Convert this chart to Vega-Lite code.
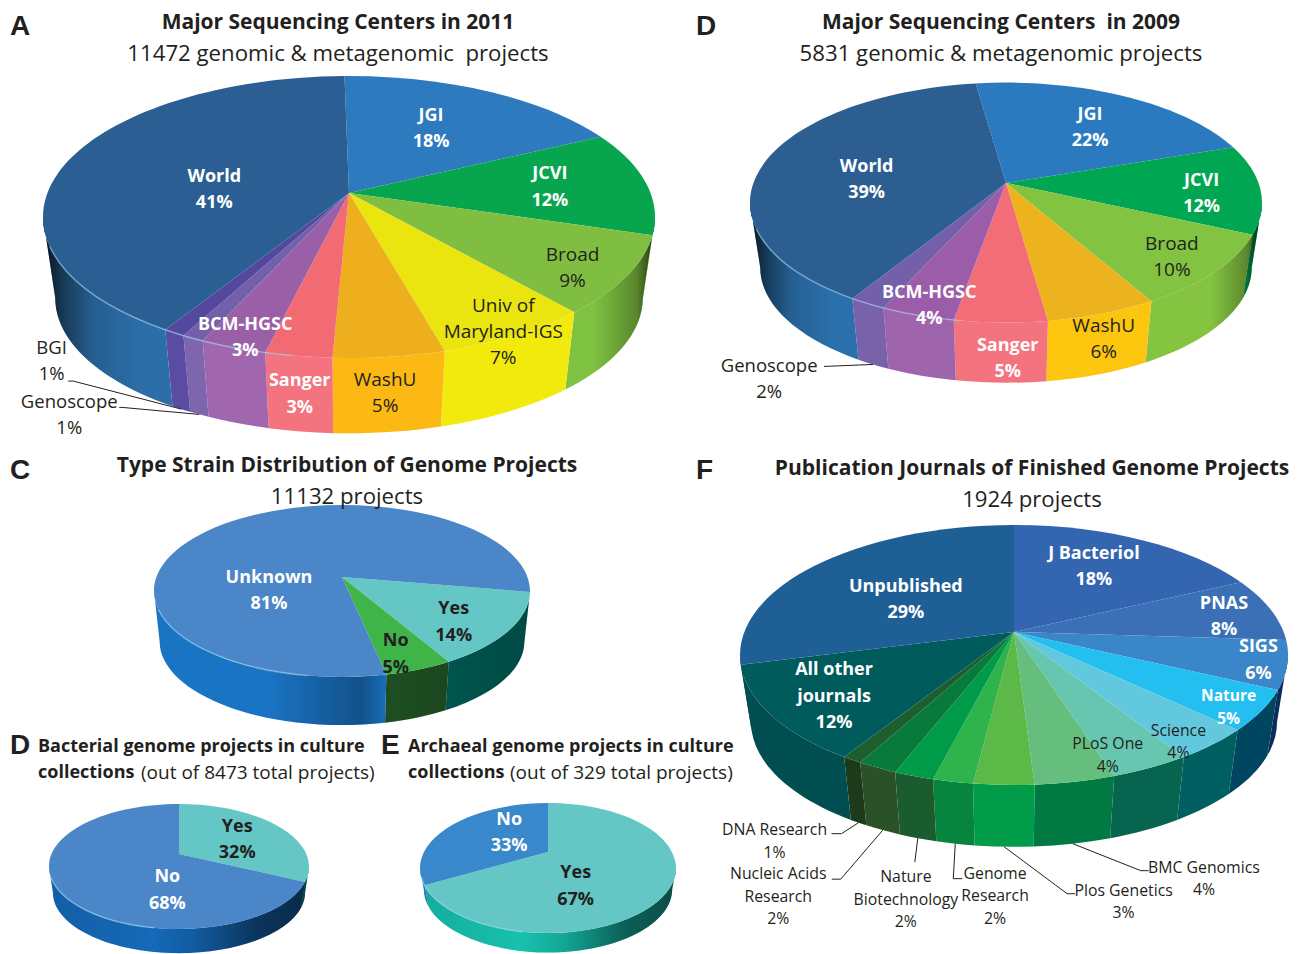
{
"$schema":"https://vega.github.io/schema/vega-lite/v6.json",
"width":1297,"height":954,"padding":0,
"autosize":{"type":"fit","contains":"padding"},
"background":"white",
"config":{"view":{"stroke":null},"text":{"font":"Open Sans"}},
"params":[
{"name":"geo","value":{
"A":{"cx":349,"cy":193,"rx":306,"ry":141,"k":0.17,"d":81,"s":-1,"b":0.96},
"B":{"cx":1006,"cy":183,"rx":256,"ry":120,"k":0.163,"d":65,"s":-8,"b":0.96},
"C":{"cx":342,"cy":577,"rx":188,"ry":86,"k":0.163,"d":50.6,"s":100,"b":0.97},
"D":{"cx":179,"cy":854,"rx":130,"ry":62.5,"k":0.2,"d":26,"s":0,"b":0.97},
"E":{"cx":548,"cy":852,"rx":128,"ry":65,"k":0.246,"d":21.5,"s":0,"b":0.97},
"F":{"cx":1014,"cy":632,"rx":274,"ry":130,"k":0.177,"d":67,"s":0,"b":0.96}}},
{"name":"nudge","value":{
"A|JGI":[-3,-1],"A|JCVI":[17,1],"A|Broad":[51,24],"A|Univ of\nMaryland-IGS":[51,51],"A|WashU":[11,98],"A|Sanger":[-18,100],"A|BCM-HGSC":[-32,49],"A|Genoscope":[-183,132],"A|BGI":[-189,81],"A|World":[38,18],
"B|JGI":[12,-1],"B|JCVI":[38,7],"B|Broad":[36,19],"B|WashU":[38,75],"B|Sanger":[5,89],"B|BCM-HGSC":[-22,41],"B|Genoscope":[-151,121],"B|World":[9,11],
"C|Yes":[8,12],"C|No":[6,20],"C|Unknown":[1,46],
"D|Yes":[-2,4],"D|No":[63,14],"E|Yes":[-48,12],"E|No":[20,-2],
"F|J Bacteriol":[2,-8],"F|PNAS":[51,-1],"F|SIGS":[75,8],"F|Nature":[61,28],"F|Science":[41,42],"F|PLoS One":[9,41],"F|BMC Genomics":[152,156],"F|Plos Genetics":[116,177],"F|Genome\nResearch":[19,175],"F|Nature\nBiotechnology":[-46,182],"F|Nucleic Acids\nResearch":[-151,184],"F|DNA Research":[-139,132],"F|All other\njournals":[-29,13],"F|Unpublished":[11,11]}},
{"name":"lead","value":{
"A|BGI":[-108,-28,-5],"A|Genoscope":[-77,-7,-3],"B|Genoscope":[-49,2,0],
"F|DNA Research":[-17,11,-10],"F|Nucleic Acids\nResearch":[-42,49,-9],"F|Nature\nBiotechnology":[-3,24,0],"F|Genome\nResearch":[-2,35,9],"F|Plos Genetics":[63,47,8],"F|BMC Genomics":[68,27,8]}},
{"name":"tp","value":{
"Aletter":[-339,-166],"Ahead":[-11,-171],"Asub":[-11,-140],
"Bletter":[-310,-156],"Bhead":[-5,-161],"Bsub":[-5,-130],
"Cletter":[-332,-106],"Chead":[5,-112],"Csub":[5,-81],
"Dletter":[-169,-108],"Dl1":[-141,-108],"Dl2":[-141,-82],"Dl3":[-38,-82],
"Eletter":[-167,-106],"El1":[-140,-106],"El2":[-140,-80],"El3":[-38,-80],
"Fletter":[-318,-161],"Fhead":[18,-164],"Fsub":[18,-133]}}
],
"data":{"values":[
{"panel":"A","order":1,"name":"JGI","value":18},{"panel":"A","order":2,"name":"JCVI","value":12},{"panel":"A","order":3,"name":"Broad","value":9},{"panel":"A","order":4,"name":"Univ of\nMaryland-IGS","value":7},{"panel":"A","order":5,"name":"WashU","value":5},{"panel":"A","order":6,"name":"Sanger","value":3},{"panel":"A","order":7,"name":"BCM-HGSC","value":3},{"panel":"A","order":8,"name":"Genoscope","value":1},{"panel":"A","order":9,"name":"BGI","value":1},{"panel":"A","order":10,"name":"World","value":41},
{"panel":"B","order":1,"name":"JGI","value":22},{"panel":"B","order":2,"name":"JCVI","value":12},{"panel":"B","order":3,"name":"Broad","value":10},{"panel":"B","order":4,"name":"WashU","value":6},{"panel":"B","order":5,"name":"Sanger","value":5},{"panel":"B","order":6,"name":"BCM-HGSC","value":4},{"panel":"B","order":7,"name":"Genoscope","value":2},{"panel":"B","order":8,"name":"World","value":39},
{"panel":"C","order":1,"name":"Yes","value":14},{"panel":"C","order":2,"name":"No","value":5},{"panel":"C","order":3,"name":"Unknown","value":81},
{"panel":"D","order":1,"name":"Yes","value":32},{"panel":"D","order":2,"name":"No","value":68},
{"panel":"E","order":1,"name":"Yes","value":67},{"panel":"E","order":2,"name":"No","value":33},
{"panel":"F","order":1,"name":"J Bacteriol","value":18},{"panel":"F","order":2,"name":"PNAS","value":8},{"panel":"F","order":3,"name":"SIGS","value":6},{"panel":"F","order":4,"name":"Nature","value":5},{"panel":"F","order":5,"name":"Science","value":4},{"panel":"F","order":6,"name":"PLoS One","value":4},{"panel":"F","order":7,"name":"BMC Genomics","value":4},{"panel":"F","order":8,"name":"Plos Genetics","value":3},{"panel":"F","order":9,"name":"Genome\nResearch","value":2},{"panel":"F","order":10,"name":"Nature\nBiotechnology","value":2},{"panel":"F","order":11,"name":"Nucleic Acids\nResearch","value":2},{"panel":"F","order":12,"name":"DNA Research","value":1},{"panel":"F","order":13,"name":"All other\njournals","value":12},{"panel":"F","order":14,"name":"Unpublished","value":29}
]},
"datasets":{"texts":[
{"panel":"A","role":"letter","text":"A"},{"panel":"A","role":"head","text":"Major Sequencing Centers in 2011"},{"panel":"A","role":"sub","text":"11472 genomic & metagenomic \u00a0projects"},
{"panel":"B","role":"letter","text":"D"},{"panel":"B","role":"head","text":"Major Sequencing Centers \u00a0in 2009"},{"panel":"B","role":"sub","text":"5831 genomic & metagenomic projects"},
{"panel":"C","role":"letter","text":"C"},{"panel":"C","role":"head","text":"Type Strain Distribution of Genome Projects"},{"panel":"C","role":"sub","text":"11132 projects"},
{"panel":"D","role":"letter","text":"D"},{"panel":"D","role":"l1","text":"Bacterial genome projects in culture"},{"panel":"D","role":"l2","text":"collections"},{"panel":"D","role":"l3","text":"(out of 8473 total projects)"},
{"panel":"E","role":"letter","text":"E"},{"panel":"E","role":"l1","text":"Archaeal genome projects in culture"},{"panel":"E","role":"l2","text":"collections"},{"panel":"E","role":"l3","text":"(out of 329 total projects)"},
{"panel":"F","role":"letter","text":"F"},{"panel":"F","role":"head","text":"Publication Journals of Finished Genome Projects"},{"panel":"F","role":"sub","text":"1924 projects"}
]},
"transform":[
{"window":[{"op":"sum","field":"value","as":"cum"}],"groupby":["panel"],"sort":[{"field":"order"}],"frame":[null,0]},
{"calculate":"geo[datum.panel]","as":"g"},
{"calculate":"datum.panel+'|'+datum.name","as":"key"},
{"calculate":"datum.g.cx","as":"px"},
{"calculate":"datum.g.cy","as":"py"},
{"calculate":"datum.g.rx*sqrt(1-datum.g.k*datum.g.k)","as":"R"},
{"calculate":"datum.g.ry*(1-datum.g.k*datum.g.k)","as":"H"},
{"calculate":"PI/180*datum.g.s+2*PI*(datum.cum-datum.value)/100","as":"a0"},
{"calculate":"PI/180*datum.g.s+2*PI*datum.cum/100","as":"a1"},
{"calculate":"(datum.a0+datum.a1)/2","as":"m"},
{"calculate":"round(100*datum.R*sin(datum.a0)/(1+datum.g.k*cos(datum.a0)))/100","as":"x0"},
{"calculate":"round(-100*datum.H*cos(datum.a0)/(1+datum.g.k*cos(datum.a0)))/100","as":"y0"},
{"calculate":"round(100*datum.R*sin(datum.a1)/(1+datum.g.k*cos(datum.a1)))/100","as":"x1"},
{"calculate":"round(-100*datum.H*cos(datum.a1)/(1+datum.g.k*cos(datum.a1)))/100","as":"y1"},
{"calculate":"datum.g.ry*datum.g.k","as":"ec"},
{"calculate":"(datum.x0/datum.g.rx)*((datum.y1-datum.ec)/datum.g.ry)-((datum.y0-datum.ec)/datum.g.ry)*(datum.x1/datum.g.rx)","as":"cross"},
{"calculate":"'M0,0L'+datum.x0+','+datum.y0+'A'+datum.g.rx+','+datum.g.ry+' 0 '+(datum.cross<0?1:0)+' 1 '+datum.x1+','+datum.y1+'Z'","as":"topPath"},
{"calculate":"acos(-datum.g.k)","as":"tv"},
{"calculate":"datum.g.rx*datum.g.b+','+datum.g.ry*datum.g.b","as":"brad"},
{"calculate":"max(datum.a0,datum.tv)","as":"ra"},
{"calculate":"min(datum.a1,2*PI-datum.tv)","as":"rb"},
{"calculate":"round(100*datum.R*sin(datum.ra)/(1+datum.g.k*cos(datum.ra)))/100","as":"xa"},
{"calculate":"round(-100*datum.H*cos(datum.ra)/(1+datum.g.k*cos(datum.ra)))/100","as":"ya"},
{"calculate":"round(100*datum.R*sin(datum.rb)/(1+datum.g.k*cos(datum.rb)))/100","as":"xb"},
{"calculate":"round(-100*datum.H*cos(datum.rb)/(1+datum.g.k*cos(datum.rb)))/100","as":"yb"},
{"calculate":"datum.rb<=datum.ra?'M0,0':'M'+datum.xa+','+datum.ya+'A'+datum.g.rx+','+datum.g.ry+' 0 0 1 '+datum.xb+','+datum.yb+'L'+(datum.xb*datum.g.b)+','+(datum.ec+datum.g.d+(datum.yb-datum.ec)*datum.g.b)+'A'+datum.brad+' 0 0 0 '+(datum.xa*datum.g.b)+','+(datum.ec+datum.g.d+(datum.ya-datum.ec)*datum.g.b)+'Z'","as":"rimPath"},
{"calculate":"round(100*datum.R*sin(datum.tv)/(1+datum.g.k*cos(datum.tv)))/100","as":"xt"},
{"calculate":"round(-100*datum.H*cos(datum.tv)/(1+datum.g.k*cos(datum.tv)))/100","as":"yt"},
{"calculate":"'M'+datum.xt+','+datum.yt+'A'+datum.g.rx+','+datum.g.ry+' 0 0 1 '+(-datum.xt)+','+datum.yt+'L'+(-datum.xt*datum.g.b)+','+(datum.ec+datum.g.d+(datum.yt-datum.ec)*datum.g.b)+'A'+datum.brad+' 0 0 0 '+(datum.xt*datum.g.b)+','+(datum.ec+datum.g.d+(datum.yt-datum.ec)*datum.g.b)+'Z'","as":"wholeRim"},
{"calculate":"round(100*datum.R*sin(PI*1.05)/(1+datum.g.k*cos(PI*1.05)))/100","as":"hx0"},
{"calculate":"round(-100*datum.H*cos(PI*1.05)/(1+datum.g.k*cos(PI*1.05)))/100","as":"hy0"},
{"calculate":"round(100*datum.R*sin(PI*1.38)/(1+datum.g.k*cos(PI*1.38)))/100","as":"hx1"},
{"calculate":"round(-100*datum.H*cos(PI*1.38)/(1+datum.g.k*cos(PI*1.38)))/100","as":"hy1"},
{"calculate":"'M'+datum.hx0+','+datum.hy0+'A'+datum.g.rx+','+datum.g.ry+' 0 0 1 '+datum.hx1+','+datum.hy1","as":"hlPath"},
{"calculate":"datum.R*sin(datum.m)/(1+datum.g.k*cos(datum.m))","as":"xm"},
{"calculate":"-datum.H*cos(datum.m)/(1+datum.g.k*cos(datum.m))","as":"ym"},
{"calculate":"datum.name+'\\n'+datum.value+'%'","as":"lab"},
{"calculate":"length(split(datum.lab,'\\n'))","as":"nl"},
{"calculate":"datum.px+0.62*datum.xm+(nudge[datum.key]||[0,0])[0]","as":"lx"},
{"calculate":"datum.py+0.62*datum.ym+(nudge[datum.key]||[0,0])[1]-13*(datum.nl-1)","as":"ly"},
{"calculate":"lead[datum.key]||[0,0,0]","as":"ld"},
{"calculate":"datum.xm*datum.g.b","as":"ax"},
{"calculate":"datum.ec+datum.g.d+(datum.ym-datum.ec)*datum.g.b","as":"ay"},
{"calculate":"'M'+datum.ax+','+datum.ay+'L'+(datum.ax+datum.ld[0])+','+(datum.ay+datum.ld[1])+'L'+(datum.ax+datum.ld[0]+datum.ld[2])+','+(datum.ay+datum.ld[1])","as":"leadPath"}
],
"layer":[
{"mark":{"type":"point","filled":true,"opacity":1,"strokeWidth":0},
 "encoding":{"x":{"field":"px","type":"quantitative","scale":null},"y":{"field":"py","type":"quantitative","scale":null},"size":{"value":4},
 "shape":{"field":"rimPath","type":"nominal","scale":null,"legend":null},
 "fill":{"field":"key","type":"nominal","legend":null,"scale":{
 "domain":["A|JGI","A|JCVI","A|Broad","A|Univ of\nMaryland-IGS","A|WashU","A|Sanger","A|BCM-HGSC","A|Genoscope","A|BGI","A|World","B|JGI","B|JCVI","B|Broad","B|WashU","B|Sanger","B|BCM-HGSC","B|Genoscope","B|World","C|Yes","C|No","C|Unknown","D|Yes","D|No","E|Yes","E|No","F|J Bacteriol","F|PNAS","F|SIGS","F|Nature","F|Science","F|PLoS One","F|BMC Genomics","F|Plos Genetics","F|Genome\nResearch","F|Nature\nBiotechnology","F|Nucleic Acids\nResearch","F|DNA Research","F|All other\njournals","F|Unpublished"],
 "range":["#2d7abf","#07a64e","#7fc241","#f2ea0c","#fdb913","#f3737e","#a066ae","#7d66ae","#5a4ba3","#2c6ea8","#2b7ac0","#00a651","#84c441","#fdc60e","#f3737e","#9f65ac","#7a62ab","#2b70ac","#00625a","#1f5223","#1a74c4","#18b0a6","#1569b8","#17c0ae","#2585ce","#0a2f5f","#0a2f5f","#0a2f5f","#004661","#005f60","#06644f","#007a42","#009c4a","#07853f","#1b5c2f","#2a5128","#1d3b1a","#014e50","#014e50"]}}}},
{"transform":[{"filter":"datum.order==1 && indexof(['A','B'],datum.panel)>=0"}],
 "mark":{"type":"point","filled":true,"opacity":1,"strokeWidth":0,"fill":{"gradient":"linear","x1":0,"x2":1,"y1":0,"y2":0,"stops":[{"offset":0,"color":"rgba(0,0,0,0.85)"},{"offset":0.03,"color":"rgba(0,0,0,0.5)"},{"offset":0.08,"color":"rgba(0,0,0,0.15)"},{"offset":0.16,"color":"rgba(0,0,0,0)"},{"offset":0.9,"color":"rgba(0,0,0,0)"},{"offset":0.97,"color":"rgba(0,0,0,0.3)"},{"offset":1,"color":"rgba(0,0,0,0.75)"}]}},
 "encoding":{"x":{"field":"px","type":"quantitative","scale":null},"y":{"field":"py","type":"quantitative","scale":null},"size":{"value":4},"shape":{"field":"wholeRim","type":"nominal","scale":null,"legend":null}}},
{"transform":[{"filter":"datum.order==1 && indexof(['D','E'],datum.panel)>=0"}],
 "mark":{"type":"point","filled":true,"opacity":1,"strokeWidth":0,"fill":{"gradient":"linear","x1":0,"x2":1,"y1":0,"y2":0,"stops":[{"offset":0,"color":"rgba(0,0,0,0.1)"},{"offset":0.4,"color":"rgba(0,0,0,0)"},{"offset":0.55,"color":"rgba(0,0,0,0.12)"},{"offset":0.8,"color":"rgba(0,0,0,0.5)"},{"offset":1,"color":"rgba(0,0,0,0.6)"}]}},
 "encoding":{"x":{"field":"px","type":"quantitative","scale":null},"y":{"field":"py","type":"quantitative","scale":null},"size":{"value":4},"shape":{"field":"wholeRim","type":"nominal","scale":null,"legend":null}}},
{"transform":[{"filter":"datum.order==1 && datum.panel=='C'"}],
 "mark":{"type":"point","filled":true,"opacity":1,"strokeWidth":0,"fill":{"gradient":"linear","x1":0,"x2":1,"y1":0,"y2":0,"stops":[{"offset":0,"color":"rgba(0,0,0,0)"},{"offset":0.3,"color":"rgba(0,0,0,0)"},{"offset":0.55,"color":"rgba(0,0,0,0.3)"},{"offset":0.62,"color":"rgba(0,0,0,0.05)"},{"offset":1,"color":"rgba(0,0,0,0.25)"}]}},
 "encoding":{"x":{"field":"px","type":"quantitative","scale":null},"y":{"field":"py","type":"quantitative","scale":null},"size":{"value":4},"shape":{"field":"wholeRim","type":"nominal","scale":null,"legend":null}}},
{"mark":{"type":"point","filled":true,"opacity":1,"strokeWidth":0},
 "encoding":{"x":{"field":"px","type":"quantitative","scale":null},"y":{"field":"py","type":"quantitative","scale":null},"size":{"value":4},
 "shape":{"field":"topPath","type":"nominal","scale":null,"legend":null},
 "color":{"field":"key","type":"nominal","legend":null,"scale":{
 "domain":["A|JGI","A|JCVI","A|Broad","A|Univ of\nMaryland-IGS","A|WashU","A|Sanger","A|BCM-HGSC","A|Genoscope","A|BGI","A|World","B|JGI","B|JCVI","B|Broad","B|WashU","B|Sanger","B|BCM-HGSC","B|Genoscope","B|World","C|Yes","C|No","C|Unknown","D|Yes","D|No","E|Yes","E|No","F|J Bacteriol","F|PNAS","F|SIGS","F|Nature","F|Science","F|PLoS One","F|BMC Genomics","F|Plos Genetics","F|Genome\nResearch","F|Nature\nBiotechnology","F|Nucleic Acids\nResearch","F|DNA Research","F|All other\njournals","F|Unpublished"],
 "range":["#2d7abf","#07a64e","#80be41","#eae50e","#edaf1e","#f26b72","#9960a8","#7460aa","#54479e","#2b5f93","#2b7ac0","#00a651","#82c341","#ecb31f","#f26d78","#9b5da9","#7460aa","#2c5e92","#64c7c5","#3fb549","#4a86c8","#64c7c5","#4a86c8","#64c7c5","#3a88cc","#3465b0","#3b6fb6","#3a86c8","#22bff0","#62c8de","#66c6b0","#66be7e","#5cb947","#2fb34c","#009b48","#077a3c","#1c5e2e","#005b5c","#1e5f96"]}}}},
{"transform":[{"filter":"datum.order==1 && datum.panel!='F'"}],
 "mark":{"type":"point","filled":false,"opacity":1,"stroke":"#9bd4ee","strokeOpacity":0.55,"strokeWidth":1.5},
 "encoding":{"x":{"field":"px","type":"quantitative","scale":null},"y":{"field":"py","type":"quantitative","scale":null},"size":{"value":4},"shape":{"field":"hlPath","type":"nominal","scale":null,"legend":null}}},
{"transform":[{"filter":"isValid(lead[datum.key])"}],
 "mark":{"type":"point","filled":false,"opacity":1,"stroke":"#231f20","strokeWidth":1},
 "encoding":{"x":{"field":"px","type":"quantitative","scale":null},"y":{"field":"py","type":"quantitative","scale":null},"size":{"value":4},"shape":{"field":"leadPath","type":"nominal","scale":null,"legend":null}}},
{"transform":[{"filter":{"field":"key","oneOf":["A|JGI","A|World","A|JCVI","A|BCM-HGSC","A|Sanger","B|JGI","B|World","B|JCVI","B|BCM-HGSC","B|Sanger","C|Unknown","D|No","E|No","F|Unpublished","F|J Bacteriol","F|PNAS","F|SIGS","F|All other\njournals"]}}],
 "mark":{"type":"text","font":"Open Sans","fontWeight":700,"fontSize":18,"lineHeight":26.5,"lineBreak":"\n","color":"white","baseline":"middle"},
 "encoding":{"x":{"field":"lx","type":"quantitative","scale":null},"y":{"field":"ly","type":"quantitative","scale":null},"text":{"field":"lab"}}},
{"transform":[{"filter":{"field":"key","oneOf":["F|Nature"]}}],
 "mark":{"type":"text","font":"Open Sans","fontWeight":700,"fontSize":15.5,"lineHeight":23,"lineBreak":"\n","color":"white","baseline":"middle"},
 "encoding":{"x":{"field":"lx","type":"quantitative","scale":null},"y":{"field":"ly","type":"quantitative","scale":null},"text":{"field":"lab"}}},
{"transform":[{"filter":{"field":"key","oneOf":["C|Yes","C|No","D|Yes","E|Yes"]}}],
 "mark":{"type":"text","font":"Open Sans","fontWeight":700,"fontSize":18,"lineHeight":26.5,"lineBreak":"\n","color":"#231f20","baseline":"middle"},
 "encoding":{"x":{"field":"lx","type":"quantitative","scale":null},"y":{"field":"ly","type":"quantitative","scale":null},"text":{"field":"lab"}}},
{"transform":[{"filter":{"field":"key","oneOf":["A|Broad","A|Univ of\nMaryland-IGS","A|WashU","B|Broad","B|WashU"]}}],
 "mark":{"type":"text","font":"Open Sans","fontSize":19,"lineHeight":26,"lineBreak":"\n","color":"#231f20","baseline":"middle"},
 "encoding":{"x":{"field":"lx","type":"quantitative","scale":null},"y":{"field":"ly","type":"quantitative","scale":null},"text":{"field":"lab"}}},
{"transform":[{"filter":{"field":"key","oneOf":["A|BGI","A|Genoscope","B|Genoscope"]}}],
 "mark":{"type":"text","font":"Open Sans","fontSize":18.5,"lineHeight":26,"lineBreak":"\n","color":"#231f20","baseline":"middle"},
 "encoding":{"x":{"field":"lx","type":"quantitative","scale":null},"y":{"field":"ly","type":"quantitative","scale":null},"text":{"field":"lab"}}},
{"transform":[{"filter":{"field":"key","oneOf":["F|Science","F|PLoS One","F|BMC Genomics","F|Plos Genetics","F|Genome\nResearch","F|Nature\nBiotechnology","F|Nucleic Acids\nResearch","F|DNA Research"]}}],
 "mark":{"type":"text","font":"Open Sans","fontSize":15.8,"lineHeight":22.5,"lineBreak":"\n","color":"#231f20","baseline":"middle"},
 "encoding":{"x":{"field":"lx","type":"quantitative","scale":null},"y":{"field":"ly","type":"quantitative","scale":null},"text":{"field":"lab"}}},
{"data":{"name":"texts"},"transform":[{"filter":"datum.role=='letter'"},{"calculate":"geo[datum.panel].cx+tp[datum.panel+datum.role][0]","as":"tx"},{"calculate":"geo[datum.panel].cy+tp[datum.panel+datum.role][1]","as":"ty"}],
 "mark":{"type":"text","font":"Liberation Sans","fontWeight":"bold","fontSize":28,"align":"left","baseline":"middle","color":"#231f20"},
 "encoding":{"x":{"field":"tx","type":"quantitative","scale":null},"y":{"field":"ty","type":"quantitative","scale":null},"text":{"field":"text"}}},
{"data":{"name":"texts"},"transform":[{"filter":"datum.role=='head'"},{"calculate":"geo[datum.panel].cx+tp[datum.panel+datum.role][0]","as":"tx"},{"calculate":"geo[datum.panel].cy+tp[datum.panel+datum.role][1]+1","as":"ty"}],
 "mark":{"type":"text","font":"Open Sans","fontWeight":700,"fontSize":21,"align":"center","baseline":"middle","color":"#231f20"},
 "encoding":{"x":{"field":"tx","type":"quantitative","scale":null},"y":{"field":"ty","type":"quantitative","scale":null},"text":{"field":"text"}}},
{"data":{"name":"texts"},"transform":[{"filter":"datum.role=='sub'"},{"calculate":"geo[datum.panel].cx+tp[datum.panel+datum.role][0]","as":"tx"},{"calculate":"geo[datum.panel].cy+tp[datum.panel+datum.role][1]+1","as":"ty"}],
 "mark":{"type":"text","font":"Open Sans","fontSize":22.2,"align":"center","baseline":"middle","color":"#231f20"},
 "encoding":{"x":{"field":"tx","type":"quantitative","scale":null},"y":{"field":"ty","type":"quantitative","scale":null},"text":{"field":"text"}}},
{"data":{"name":"texts"},"transform":[{"filter":"datum.role=='l1'||datum.role=='l2'"},{"calculate":"geo[datum.panel].cx+tp[datum.panel+datum.role][0]","as":"tx"},{"calculate":"geo[datum.panel].cy+tp[datum.panel+datum.role][1]+1","as":"ty"}],
 "mark":{"type":"text","font":"Open Sans","fontWeight":700,"fontSize":18,"align":"left","baseline":"middle","color":"#231f20"},
 "encoding":{"x":{"field":"tx","type":"quantitative","scale":null},"y":{"field":"ty","type":"quantitative","scale":null},"text":{"field":"text"}}},
{"data":{"name":"texts"},"transform":[{"filter":"datum.role=='l3'"},{"calculate":"geo[datum.panel].cx+tp[datum.panel+datum.role][0]","as":"tx"},{"calculate":"geo[datum.panel].cy+tp[datum.panel+datum.role][1]+1","as":"ty"}],
 "mark":{"type":"text","font":"Open Sans","fontSize":19,"align":"left","baseline":"middle","color":"#231f20"},
 "encoding":{"x":{"field":"tx","type":"quantitative","scale":null},"y":{"field":"ty","type":"quantitative","scale":null},"text":{"field":"text"}}}
]
}
